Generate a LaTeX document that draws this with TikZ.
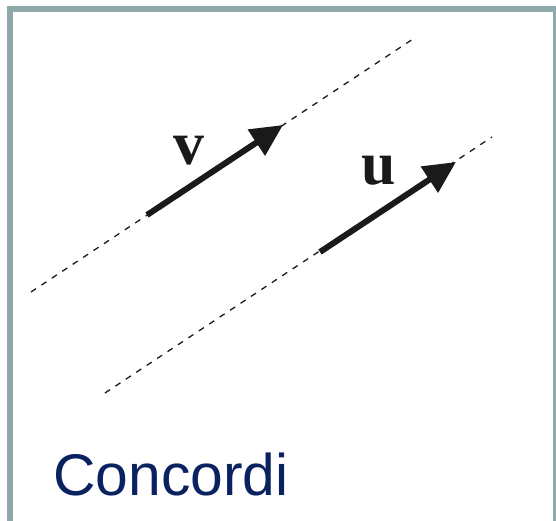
\documentclass[tikz,border=0pt]{standalone}
\usepackage{fontspec}
\setmainfont{Liberation Serif}
\newfontfamily\labelsans{Liberation Sans}
\usetikzlibrary{arrows.meta}
\definecolor{framecol}{HTML}{8FA8AA}
\definecolor{navy}{HTML}{0B2261}
\definecolor{ink}{HTML}{1A1A1A}
\tikzset{
  guide/.style={draw=ink, line width=1.3bp, dash pattern=on 6bp off 6.5bp},
  vecarrow/.style={draw=ink, line width=6bp, -{Triangle[length=32bp,width=30bp]}},
  veclabel/.style={inner sep=0pt, anchor=base, text=ink, font=\fontsize{62}{70}\selectfont\bfseries},
}
\begin{document}
\begin{tikzpicture}[x=1bp,y=-1bp]
\useasboundingbox (0,0) rectangle (556,521);
\fill[white] (0,0) rectangle (556,521);
\begin{scope}
\clip (0,0) rectangle (556,521);
\draw[framecol, line width=6bp] (9.5,9) rectangle (556,524);
\end{scope}
% guide lines
\coordinate (a0) at (31,292);
\coordinate (a1) at (416,37);
\coordinate (b0) at (105,393);
\coordinate (b1) at (492,137);
\draw[guide] (a0) -- (a1);
\draw[guide] (b0) -- (b1);
% vectors
\coordinate (v0) at (147,215);
\coordinate (v1) at (283,125);
\coordinate (u0) at (320,252);
\coordinate (u1) at (456,162);
\draw[vecarrow] (v0) -- (v1);
\draw[vecarrow] (u0) -- (u1);
\node[veclabel] (vlab) at (189,165) {v};
\node[veclabel] (ulab) at (378.5,185) {u};
\node[inner sep=0pt, anchor=base west, text=navy, font=\labelsans\fontsize{59}{66}\selectfont] (brand) at (53,495) {Concordi};
\end{tikzpicture}
\end{document}
